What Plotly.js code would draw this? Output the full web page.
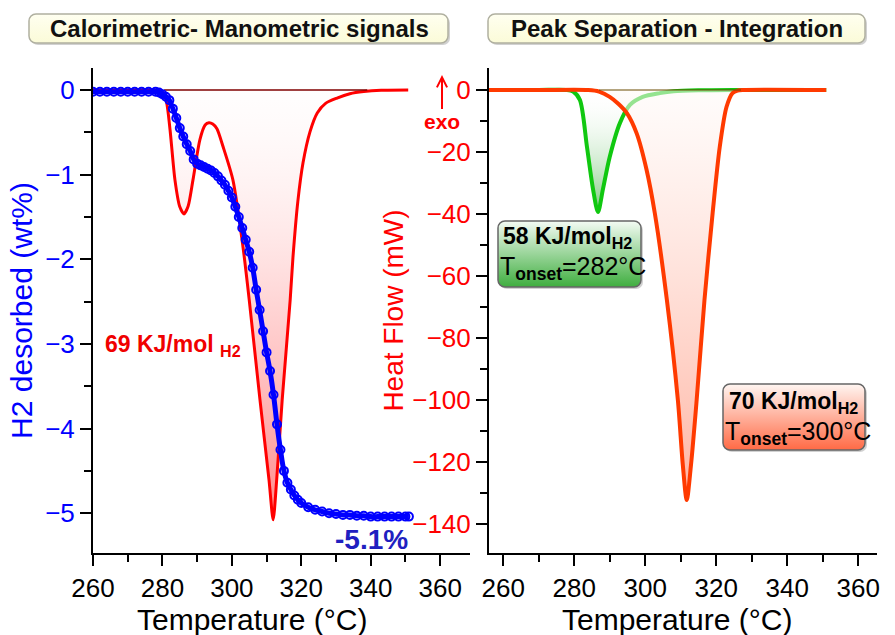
<!DOCTYPE html>
<html>
<head>
<meta charset="utf-8">
<script src="https://cdn.plot.ly/plotly-3.0.1.min.js"></script>
<style>html,body{margin:0;padding:0;background:#fff;}#chart{width:895px;height:635px;}</style>
</head>
<body>
<div id="chart"></div>
<script>
// ---------- DATA ----------
// Left panel: DSC heat flow (mW) vs temperature
const leftT  = [260, 270, 278, 280, 281.2, 282.2, 283.6, 285, 286.2, 287.4, 288.8, 290.8, 292.3, 293.4, 294.5, 295.7, 297.5, 300.3, 303.2, 305, 308.1, 310.7, 311.9, 312.9, 314.5, 316.8, 317.6, 319, 320.5, 322.5, 324.6, 327, 330.3, 334, 338, 343, 350.8];
const leftHF = [0, 0, 0, -0.6, -4, -12.9, -29, -37.7, -40, -37.5, -29, -16, -11.3, -10.6, -11, -12.5, -18.4, -29, -50.6, -67.7, -100, -125.8, -138.7, -126, -100, -67.7, -54, -36, -23.5, -13.5, -7.4, -4.3, -2.6, -1.2, -0.5, -0.1, 0];
// Integration baseline (left)
const leftBaseT  = [280.5, 339];
const leftBaseHF = [0, 0];
// Left panel: H2 desorbed (wt%) vs temperature
const h2T  = [260, 262, 264, 266, 268, 270, 272, 274, 276, 278, 279, 280, 281, 282, 283, 284, 285, 286, 287, 288, 289, 290, 291, 292, 293, 294, 295, 296, 297, 298, 299, 300, 301, 302, 303, 304, 305, 306, 307, 308, 309, 310, 311, 312, 313, 314, 315, 316, 317, 318, 319, 320, 322, 324, 326, 328, 330, 332, 334, 336, 338, 340, 342, 344, 346, 348, 350, 351];
const h2Wt = [-0.02, -0.02, -0.02, -0.02, -0.02, -0.02, -0.02, -0.02, -0.02, -0.02, -0.03, -0.05, -0.08, -0.12, -0.22, -0.33, -0.45, -0.55, -0.64, -0.72, -0.82, -0.87, -0.89, -0.91, -0.93, -0.95, -0.98, -1.02, -1.07, -1.12, -1.19, -1.27, -1.38, -1.5, -1.63, -1.77, -1.91, -2.1, -2.36, -2.6, -2.85, -3.1, -3.32, -3.6, -3.95, -4.25, -4.5, -4.64, -4.72, -4.79, -4.84, -4.88, -4.93, -4.96, -4.98, -5.0, -5.01, -5.02, -5.02, -5.03, -5.03, -5.04, -5.04, -5.04, -5.04, -5.04, -5.04, -5.04];
// Right panel: separated peaks
const greenT  = [256, 270, 278, 279.7, 281.6, 283.6, 285.3, 286.7, 288.1, 290, 292.9, 295.7, 299.3, 304.1, 308, 315, 325, 351];
const greenHF = [0, 0, 0, -0.5, -3.2, -18.4, -32, -39.4, -32, -21.6, -10.6, -4.8, -2.2, -1, -0.4, -0.1, 0, 0];
const orangeT  = [256, 270, 284, 287, 290, 292.5, 294.8, 297.6, 300.4, 302.7, 306.1, 309.2, 310.6, 311.7, 312.9, 314.5, 316.7, 319, 321, 322.9, 324.6, 326, 327.4, 351];
const orangeHF = [0, 0, 0, -0.5, -2.2, -4.5, -7.4, -14, -25.8, -39.7, -67.7, -100, -121, -132.3, -121, -100, -67.7, -39.7, -18.4, -5.5, -1, -0.2, 0, 0];
const rightBaseT  = [287, 327];
const rightBaseHF = [0, 0];
// Axis ticks
const tempTicks = [260, 280, 300, 320, 340, 360];
const wtTicks   = [0, -1, -2, -3, -4, -5];
const hfTicks   = [0, -20, -40, -60, -80, -100, -120, -140];

// ---------- helpers (pixel -> paper) ----------
const L = 93, R = 877, T0 = 68, B0 = 553;
const W = R - L, H = B0 - T0;
const xp = px => (px - L) / W;
const yp = py => (B0 - py) / H;
const FONT = 'Liberation Sans, Arial, sans-serif';

function boxSVG(w, h, top, bottom, stroke) {
  const svg = `<svg xmlns="http://www.w3.org/2000/svg" width="${w}" height="${h}" viewBox="0 0 ${w} ${h}">` +
    `<defs><linearGradient id="g" x1="0" y1="0" x2="0" y2="1"><stop offset="0" stop-color="${top}"/><stop offset="1" stop-color="${bottom}"/></linearGradient></defs>` +
    `<rect x="3" y="3" width="${w-4}" height="${h-4}" rx="7" ry="7" fill="#999" opacity="0.45"/>` +
    `<rect x="1" y="1" width="${w-4}" height="${h-4}" rx="7" ry="7" fill="url(#g)" stroke="${stroke}" stroke-width="1.5"/></svg>`;
  return 'data:image/svg+xml;charset=utf-8,' + encodeURIComponent(svg);
}
function boxImage(x0, y0, x1, y1, top, bottom, stroke) {
  const w = x1 - x0 + 3, h = y1 - y0 + 3;
  return {source: boxSVG(w, h, top, bottom, stroke), xref: 'paper', yref: 'paper',
    x: xp(x0), y: yp(y0), sizex: w / W, sizey: h / H, sizing: 'stretch',
    xanchor: 'left', yanchor: 'top', layer: 'above'};
}

// ---------- traces ----------
const traces = [
  { x: leftT, y: leftHF, xaxis: 'x', yaxis: 'y', mode: 'lines', line: {color: '#ff0000', width: 3, shape: 'spline', smoothing: 0.7},
    fill: 'tozeroy', fillgradient: {type: 'vertical', colorscale: [[0, 'rgba(255,125,125,0.9)'], [0.5, 'rgba(255,195,195,0.7)'], [1, 'rgba(255,248,248,0.2)']]}, hoverinfo: 'skip' },
  { x: leftBaseT, y: leftBaseHF, xaxis: 'x', yaxis: 'y', mode: 'lines', line: {color: '#800000', width: 1.5} },
  { x: h2T, y: h2Wt, xaxis: 'x', yaxis: 'y3', mode: 'lines+markers', line: {color: '#0000ff', width: 5, shape: 'spline'},
    marker: {symbol: 'circle-open', size: 8, color: '#0000ff', line: {width: 2, color: '#0000ff'}} },
  { x: greenT, y: greenHF, xaxis: 'x2', yaxis: 'y2', mode: 'lines', line: {color: '#10c810', width: 4, shape: 'spline', smoothing: 0.8},
    fill: 'tozeroy', fillgradient: {type: 'vertical', colorscale: [[0, 'rgba(110,195,110,0.9)'], [1, 'rgba(255,255,255,0)']]} },
  { x: orangeT, y: orangeHF, xaxis: 'x2', yaxis: 'y2', mode: 'lines', line: {color: '#ff3a00', width: 4, shape: 'spline', smoothing: 0.8},
    fill: 'tozeroy', fillgradient: {type: 'vertical', colorscale: [[0, 'rgba(255,170,150,0.9)'], [1, 'rgba(255,250,248,0.55)']]} },
  { x: rightBaseT, y: rightBaseHF, xaxis: 'x2', yaxis: 'y2', mode: 'lines', line: {color: '#6a4a00', width: 1.2} }
];

const axBase = {showgrid: false, zeroline: false, showline: true, linecolor: '#000', linewidth: 2,
  ticks: 'outside', tickcolor: '#000', tickwidth: 2, ticklen: 11, mirror: false};

const layout = {
  width: 895, height: 635,
  margin: {l: L, r: 895 - R, t: T0, b: 635 - B0, pad: 0},
  paper_bgcolor: '#fff', plot_bgcolor: 'rgba(0,0,0,0)',
  showlegend: false,
  font: {family: FONT, color: '#000'},
  xaxis: Object.assign({}, axBase, {domain: [0, xp(470)], range: [260, 368.6], anchor: 'y',
    tickvals: tempTicks, tickfont: {size: 26, color: '#000'},
    minor: {dtick: 10, tick0: 260, ticks: 'outside', ticklen: 7, tickwidth: 2, tickcolor: '#000'}}),
  yaxis: {domain: [0, 1], range: [-149.4, 7.1], visible: false, anchor: 'x', showgrid: false, zeroline: false},
  yaxis3: Object.assign({}, axBase, {overlaying: 'y', anchor: 'x', side: 'left', range: [-5.47, 0.26],
    tickvals: wtTicks, tickfont: {size: 26, color: '#0000ff'},
    minor: {dtick: 0.5, tick0: 0, ticks: 'outside', ticklen: 7, tickwidth: 2, tickcolor: '#000'},
    title: {text: 'H2 desorbed (wt%)', font: {size: 30, color: '#0000ff'}, standoff: 4}}),
  xaxis2: Object.assign({}, axBase, {domain: [xp(489), 1], range: [256, 365.3], anchor: 'y2',
    tickvals: tempTicks, tickfont: {size: 26, color: '#000'},
    minor: {dtick: 10, tick0: 260, ticks: 'outside', ticklen: 7, tickwidth: 2, tickcolor: '#000'}}),
  yaxis2: Object.assign({}, axBase, {domain: [0, 1], range: [-149.4, 7.1], anchor: 'x2',
    tickvals: hfTicks, tickfont: {size: 26, color: '#ff0000'},
    minor: {dtick: 10, tick0: 0, ticks: 'outside', ticklen: 7, tickwidth: 2, tickcolor: '#000'},
    title: {text: 'Heat Flow (mW)', font: {size: 28, color: '#ff0000'}, standoff: 0}}),
  images: [
    boxImage(28, 13, 448, 43, '#fffff0', '#fbfbd8', '#b0b0a0'),
    boxImage(487, 13, 865, 43, '#fffff0', '#fbfbd8', '#b0b0a0'),
    boxImage(497, 220, 641, 287, '#f4fbf4', '#3fae3f', '#666'),
    boxImage(722, 383, 865, 450, '#fff6f2', '#ff6a45', '#666')
  ],
  annotations: [
    {xref: 'paper', yref: 'paper', x: xp(239), y: yp(28), text: '<b>Calorimetric- Manometric signals</b>', showarrow: false,
      font: {size: 24, color: '#111'}, xanchor: 'center', yanchor: 'middle'},
    {xref: 'paper', yref: 'paper', x: xp(677), y: yp(28), text: '<b>Peak Separation - Integration</b>', showarrow: false,
      font: {size: 24, color: '#111'}, xanchor: 'center', yanchor: 'middle'},
    {xref: 'paper', yref: 'paper', x: xp(252), y: yp(619), text: 'Temperature (°C)', showarrow: false,
      font: {size: 30, color: '#000'}, xanchor: 'center', yanchor: 'middle'},
    {xref: 'paper', yref: 'paper', x: xp(677), y: yp(619), text: 'Temperature (°C)', showarrow: false,
      font: {size: 30, color: '#000'}, xanchor: 'center', yanchor: 'middle'},
    {xref: 'paper', yref: 'paper', x: xp(103), y: yp(345), text: '<b>69 KJ/mol <sub>H2</sub></b>', showarrow: false,
      font: {size: 23, color: '#f00000'}, xanchor: 'left', yanchor: 'middle'},
    {xref: 'paper', yref: 'paper', x: xp(371), y: yp(539), text: '<b>-5.1%</b>', showarrow: false,
      font: {size: 28, color: '#2020c0'}, xanchor: 'center', yanchor: 'middle'},
    {xref: 'paper', yref: 'paper', x: xp(442), y: yp(75), ax: 0, ay: 47, text: '<b>exo</b>', showarrow: true,
      arrowhead: 5, arrowsize: 1, arrowwidth: 2, arrowcolor: '#ff0000', standoff: 0,
      font: {size: 21, color: '#ff0000'}},
    {xref: 'paper', yref: 'paper', x: xp(501), y: yp(237), text: '<b>58 KJ/mol<sub>H2</sub></b>', showarrow: false,
      font: {size: 23, color: '#000'}, xanchor: 'left', yanchor: 'middle'},
    {xref: 'paper', yref: 'paper', x: xp(498), y: yp(268), text: 'T<sub><b>onset</b></sub>=282°C', showarrow: false,
      font: {size: 25, color: '#000'}, xanchor: 'left', yanchor: 'middle'},
    {xref: 'paper', yref: 'paper', x: xp(727), y: yp(402), text: '<b>70 KJ/mol<sub>H2</sub></b>', showarrow: false,
      font: {size: 23, color: '#000'}, xanchor: 'left', yanchor: 'middle'},
    {xref: 'paper', yref: 'paper', x: xp(723), y: yp(433), text: 'T<sub><b>onset</b></sub>=300°C', showarrow: false,
      font: {size: 25, color: '#000'}, xanchor: 'left', yanchor: 'middle'}
  ]
};

Plotly.newPlot('chart', traces, layout, {displayModeBar: false, staticPlot: true});
</script>
</body>
</html>
